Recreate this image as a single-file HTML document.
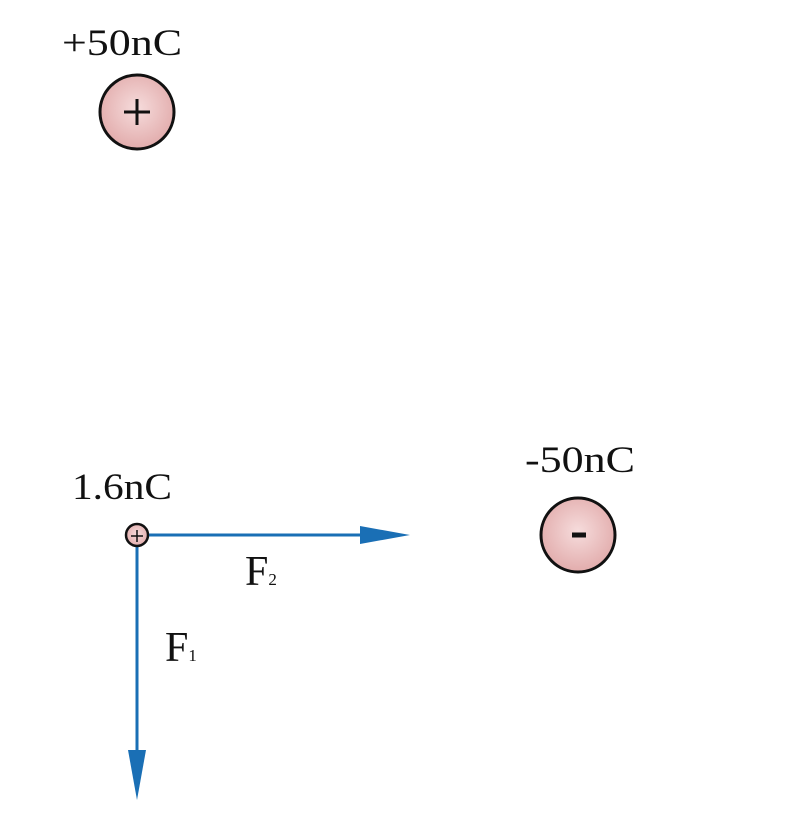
<!DOCTYPE html>
<html><head><meta charset="utf-8"><style>
body{margin:0;background:#fff;width:800px;height:825px;overflow:hidden}
text{font-family:"Liberation Serif",serif;fill:#111}
</style></head><body>
<svg width="800" height="825" viewBox="0 0 800 825" xmlns="http://www.w3.org/2000/svg">
<defs>
<radialGradient id="g" cx="50%" cy="45%" r="55%">
<stop offset="0" stop-color="#f6dcdc"/><stop offset="1" stop-color="#e2acac"/>
</radialGradient>
</defs>
<text x="62" y="55" font-size="37" textLength="120" lengthAdjust="spacingAndGlyphs">+50nC</text>
<circle cx="137" cy="112" r="37" fill="url(#g)" stroke="#111" stroke-width="3"/>
<path d="M124 112h26M137 99v26" stroke="#111" stroke-width="3"/>
<text x="525" y="472" font-size="37" textLength="110" lengthAdjust="spacingAndGlyphs">-50nC</text>
<circle cx="578" cy="535" r="37" fill="url(#g)" stroke="#111" stroke-width="3"/>
<path d="M572 535h14" stroke="#111" stroke-width="5"/>
<text x="72" y="499" font-size="37" textLength="100" lengthAdjust="spacingAndGlyphs">1.6nC</text>
<line x1="148" y1="535" x2="365" y2="535" stroke="#1a6fb5" stroke-width="3"/>
<polygon points="360,526 410,535 360,544" fill="#1a6fb5"/>
<line x1="137" y1="546" x2="137" y2="755" stroke="#1a6fb5" stroke-width="3"/>
<polygon points="128,750 137,800 146,750" fill="#1a6fb5"/>
<circle cx="137" cy="535" r="11" fill="url(#g)" stroke="#111" stroke-width="2.5"/>
<path d="M131 536h12M137 530v12" stroke="#111" stroke-width="1.5"/>
<text x="245" y="585" font-size="42">F<tspan font-size="17">2</tspan></text>
<text x="165" y="661" font-size="42">F<tspan font-size="17">1</tspan></text>
</svg>
</body></html>
